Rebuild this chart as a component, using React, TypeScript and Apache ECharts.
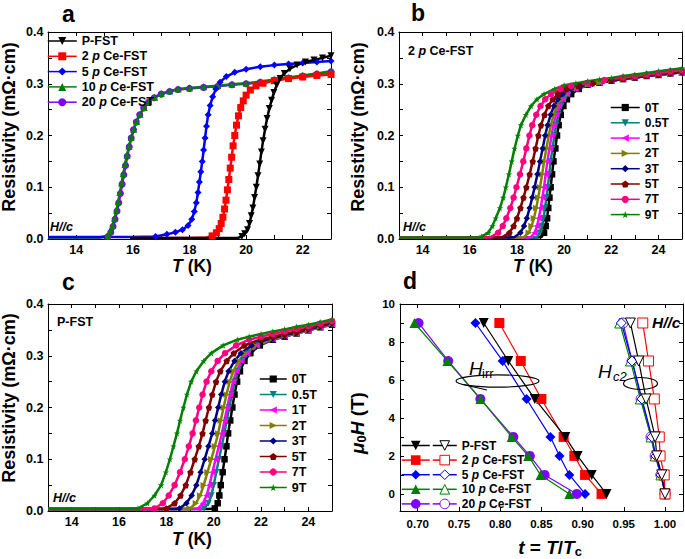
import React, { useEffect, useRef } from "react";
import * as echarts from "echarts";

const FONT = '"Liberation Sans", Arial, Helvetica, sans-serif';

// ---------- Panel a : zero-field resistivity ----------
const aPFST = [[15.9,0.002],[17,0.002],[18,0.002],[19,0.002],[19.7,0.002],[19.85,0.005],[19.95,0.01],[20.05,0.018],[20.12,0.03],[20.18,0.045],[20.24,0.06],[20.3,0.08],[20.36,0.1],[20.42,0.122],[20.48,0.145],[20.54,0.168],[20.6,0.19],[20.67,0.212],[20.74,0.233],[20.82,0.252],[20.9,0.268],[20.98,0.283],[21.08,0.297],[21.2,0.31],[21.35,0.32],[21.55,0.329],[21.8,0.336],[22.1,0.342],[22.4,0.346],[22.7,0.35],[23,0.354]];
const a2p = [[15.9,0.002],[17,0.002],[18,0.002],[18.6,0.003],[18.8,0.006],[18.95,0.012],[19.05,0.02],[19.12,0.03],[19.18,0.042],[19.24,0.058],[19.29,0.075],[19.34,0.095],[19.39,0.115],[19.44,0.137],[19.49,0.158],[19.54,0.18],[19.6,0.2],[19.66,0.22],[19.73,0.238],[19.81,0.254],[19.9,0.267],[20.0,0.278],[20.15,0.288],[20.35,0.296],[20.6,0.301],[21,0.306],[21.5,0.31],[22,0.313],[22.5,0.316],[23,0.318]];
const a5p = [[13,0.004],[14,0.004],[15,0.004],[16,0.004],[16.8,0.005],[17.2,0.009],[17.5,0.013],[17.75,0.018],[17.95,0.026],[18.08,0.038],[18.17,0.053],[18.24,0.07],[18.3,0.09],[18.35,0.11],[18.4,0.13],[18.45,0.15],[18.5,0.172],[18.55,0.195],[18.6,0.218],[18.66,0.24],[18.73,0.258],[18.82,0.275],[18.93,0.29],[19.08,0.303],[19.3,0.314],[19.6,0.322],[20,0.328],[20.5,0.333],[21,0.336],[21.5,0.338],[22,0.34],[22.5,0.342],[23,0.344]];
const a10p = [[13,0.003],[14,0.003],[14.8,0.003],[15.1,0.006],[15.2,0.015],[15.28,0.026],[15.35,0.04],[15.42,0.056],[15.48,0.072],[15.54,0.09],[15.6,0.108],[15.66,0.126],[15.72,0.144],[15.79,0.162],[15.86,0.179],[15.94,0.196],[16.03,0.212],[16.13,0.227],[16.25,0.241],[16.4,0.254],[16.57,0.265],[16.77,0.274],[17,0.281],[17.3,0.286],[17.6,0.29],[18,0.292],[18.5,0.294],[19,0.296],[19.5,0.299],[20,0.301],[20.5,0.304],[21,0.308],[21.5,0.312],[22,0.316],[22.5,0.32],[23,0.324]];
const a20p = [[13,0.003],[14.8,0.003],[15.12,0.005],[15.22,0.013],[15.3,0.024],[15.37,0.038],[15.44,0.054],[15.5,0.07],[15.56,0.088],[15.62,0.106],[15.68,0.124],[15.74,0.142],[15.8,0.16],[15.87,0.178],[15.94,0.195],[16.02,0.211],[16.12,0.226],[16.24,0.24],[16.38,0.253],[16.55,0.264],[16.75,0.273],[17,0.28],[17.3,0.285],[17.6,0.289],[18,0.291],[18.5,0.293],[19,0.295],[19.5,0.298],[20,0.3],[20.5,0.303],[21,0.307],[21.5,0.311],[22,0.315],[22.5,0.319],[23,0.323]];

// ---------- Panel b : 2 p Ce-FST in field ----------
const b0T = [[13,0.003],[15,0.003],[17,0.003],[18.8,0.003],[19.05,0.004],[19.15,0.012],[19.22,0.025],[19.28,0.04],[19.33,0.06],[19.38,0.08],[19.43,0.1],[19.49,0.125],[19.55,0.15],[19.63,0.175],[19.7,0.2],[19.77,0.22],[19.86,0.24],[19.97,0.257],[20.12,0.27],[20.3,0.28],[20.62,0.29],[21,0.298],[21.5,0.302],[22,0.306],[22.5,0.309],[23,0.312],[23.5,0.315],[24,0.317],[24.5,0.32],[25,0.322]];
const b05T = [[13,0.003],[16,0.003],[18.6,0.003],[18.85,0.004],[18.98,0.012],[19.06,0.025],[19.13,0.04],[19.19,0.06],[19.25,0.08],[19.31,0.1],[19.37,0.125],[19.43,0.15],[19.51,0.175],[19.59,0.2],[19.66,0.22],[19.76,0.24],[19.88,0.257],[20.03,0.27],[20.2,0.28],[20.55,0.29],[21,0.298],[21.5,0.302],[22,0.306],[22.5,0.309],[23,0.312],[23.5,0.315],[24,0.317],[24.5,0.32],[25,0.322]];
const b1T = [[13,0.003],[16,0.003],[18.4,0.003],[18.6,0.004],[18.75,0.012],[18.85,0.025],[18.93,0.04],[19.01,0.06],[19.08,0.08],[19.15,0.1],[19.22,0.125],[19.29,0.15],[19.38,0.175],[19.47,0.2],[19.55,0.22],[19.66,0.24],[19.78,0.257],[19.94,0.27],[20.12,0.28],[20.48,0.29],[21,0.298],[21.5,0.302],[22,0.306],[22.5,0.309],[23,0.312],[23.5,0.315],[24,0.317],[24.5,0.32],[25,0.322]];
const b2T = [[13,0.003],[16,0.003],[18.1,0.003],[18.3,0.004],[18.5,0.012],[18.62,0.025],[18.72,0.04],[18.82,0.06],[18.9,0.08],[18.98,0.1],[19.07,0.125],[19.15,0.15],[19.25,0.175],[19.35,0.2],[19.44,0.22],[19.56,0.24],[19.69,0.257],[19.85,0.27],[20.05,0.28],[20.4,0.29],[21,0.298],[21.5,0.302],[22,0.306],[22.5,0.309],[23,0.312],[23.5,0.315],[24,0.317],[24.5,0.32],[25,0.322]];
const b3T = [[13,0.003],[16,0.003],[17.7,0.003],[17.9,0.004],[18.15,0.012],[18.3,0.025],[18.42,0.04],[18.54,0.06],[18.65,0.08],[18.75,0.1],[18.87,0.125],[18.98,0.15],[19.09,0.175],[19.2,0.2],[19.3,0.22],[19.43,0.24],[19.57,0.257],[19.74,0.27],[19.95,0.28],[20.3,0.29],[20.7,0.295],[21.2,0.3],[22,0.306],[22.5,0.309],[23,0.312],[23.5,0.315],[24,0.318],[24.5,0.32],[25,0.323]];
const b5T = [[13,0.003],[15,0.003],[17.2,0.003],[17.4,0.004],[17.68,0.012],[17.86,0.025],[18.0,0.04],[18.15,0.06],[18.28,0.08],[18.4,0.1],[18.54,0.125],[18.67,0.15],[18.79,0.175],[18.91,0.2],[19.02,0.22],[19.17,0.24],[19.33,0.257],[19.52,0.27],[19.74,0.28],[20.1,0.29],[20.6,0.296],[21.2,0.301],[22,0.307],[22.5,0.31],[23,0.313],[23.5,0.316],[24,0.319],[24.5,0.321],[25,0.324]];
const b7T = [[13,0.003],[15,0.003],[16.7,0.003],[16.9,0.004],[17.2,0.012],[17.4,0.025],[17.55,0.04],[17.72,0.06],[17.86,0.08],[17.98,0.1],[18.13,0.125],[18.27,0.15],[18.4,0.175],[18.53,0.2],[18.65,0.22],[18.82,0.24],[19.0,0.257],[19.2,0.27],[19.45,0.28],[19.85,0.29],[20.3,0.296],[21,0.302],[21.7,0.307],[22.5,0.312],[23,0.315],[23.5,0.318],[24,0.321],[24.5,0.324],[25,0.326]];
const b9T = [[13,0.003],[15,0.003],[16.3,0.003],[16.5,0.005],[16.78,0.012],[16.96,0.025],[17.1,0.04],[17.28,0.06],[17.42,0.08],[17.53,0.1],[17.66,0.125],[17.78,0.15],[17.9,0.175],[18.04,0.2],[18.17,0.22],[18.38,0.24],[18.6,0.257],[18.85,0.27],[19.15,0.28],[19.6,0.29],[20,0.297],[20.5,0.301],[21,0.305],[21.5,0.308],[22,0.311],[22.5,0.315],[23,0.318],[23.5,0.321],[24,0.324],[24.5,0.327],[25,0.33]];

// ---------- Panel c : P-FST in field ----------
const c0T = [[13,0.004],[15,0.004],[17,0.004],[19,0.004],[19.8,0.004],[20.05,0.005],[20.17,0.015],[20.24,0.03],[20.3,0.05],[20.38,0.075],[20.46,0.1],[20.54,0.125],[20.61,0.15],[20.7,0.175],[20.79,0.2],[20.88,0.225],[20.99,0.25],[21.11,0.27],[21.3,0.29],[21.55,0.305],[21.95,0.32],[22.5,0.331],[23,0.337],[23.5,0.343],[24,0.349],[24.5,0.355],[25,0.36]];
const c05T = [[13,0.004],[16,0.004],[19.4,0.004],[19.6,0.005],[19.78,0.015],[19.9,0.03],[20.0,0.05],[20.11,0.075],[20.22,0.1],[20.34,0.125],[20.45,0.15],[20.55,0.175],[20.66,0.2],[20.77,0.225],[20.9,0.25],[21.03,0.27],[21.23,0.29],[21.48,0.305],[21.88,0.32],[22.5,0.332],[23,0.338],[23.5,0.343],[24,0.349],[24.5,0.355],[25,0.36]];
const c1T = [[13,0.004],[16,0.004],[19.15,0.004],[19.35,0.005],[19.55,0.015],[19.7,0.03],[19.82,0.05],[19.95,0.075],[20.08,0.1],[20.22,0.125],[20.35,0.15],[20.46,0.175],[20.57,0.2],[20.69,0.225],[20.82,0.25],[20.96,0.27],[21.17,0.29],[21.42,0.305],[21.82,0.32],[22.5,0.332],[23,0.338],[23.5,0.343],[24,0.349],[24.5,0.355],[25,0.361]];
const c2T = [[13,0.004],[16,0.004],[18.8,0.004],[19.0,0.005],[19.25,0.015],[19.43,0.03],[19.58,0.05],[19.74,0.075],[19.9,0.1],[20.05,0.125],[20.19,0.15],[20.3,0.175],[20.42,0.2],[20.54,0.225],[20.68,0.25],[20.83,0.27],[21.06,0.29],[21.32,0.305],[21.75,0.32],[22.5,0.333],[23,0.339],[23.5,0.344],[24,0.35],[24.5,0.356],[25,0.362]];
const c3T = [[13,0.004],[16,0.004],[18.35,0.004],[18.55,0.005],[18.85,0.015],[19.07,0.03],[19.27,0.05],[19.45,0.075],[19.62,0.1],[19.78,0.125],[19.94,0.15],[20.06,0.175],[20.19,0.2],[20.32,0.225],[20.47,0.25],[20.63,0.27],[20.88,0.29],[21.15,0.305],[21.6,0.32],[22,0.328],[22.5,0.334],[23,0.34],[23.5,0.345],[24,0.351],[24.5,0.357],[25,0.363]];
const c5T = [[13,0.004],[16,0.004],[17.8,0.004],[18.0,0.005],[18.35,0.015],[18.6,0.03],[18.82,0.05],[19.02,0.075],[19.2,0.1],[19.37,0.125],[19.53,0.15],[19.66,0.175],[19.8,0.2],[19.94,0.225],[20.1,0.25],[20.28,0.27],[20.55,0.29],[20.85,0.305],[21.3,0.32],[22,0.332],[22.5,0.337],[23,0.342],[23.5,0.347],[24,0.353],[24.5,0.359],[25,0.365]];
const c7T = [[13,0.004],[15,0.004],[17.3,0.004],[17.5,0.005],[17.85,0.015],[18.1,0.03],[18.35,0.05],[18.58,0.075],[18.78,0.1],[18.95,0.125],[19.11,0.15],[19.25,0.175],[19.39,0.2],[19.53,0.225],[19.7,0.25],[19.9,0.27],[20.17,0.29],[20.48,0.305],[20.95,0.32],[21.5,0.331],[22,0.337],[22.5,0.342],[23,0.347],[23.5,0.352],[24,0.357],[24.5,0.362],[25,0.367]];
const c9T = [[13,0.004],[15,0.004],[16.6,0.004],[16.8,0.005],[17.2,0.015],[17.5,0.03],[17.78,0.05],[17.98,0.075],[18.15,0.1],[18.3,0.125],[18.45,0.15],[18.58,0.175],[18.72,0.2],[18.87,0.225],[19.05,0.25],[19.27,0.27],[19.58,0.29],[19.9,0.305],[20.4,0.32],[21,0.331],[21.5,0.337],[22,0.342],[22.5,0.347],[23,0.351],[23.5,0.356],[24,0.36],[24.5,0.365],[25,0.37]];

// ---------- Panel d : phase diagram ----------
const dFields = [0, 1, 2, 3, 5, 7, 9];
const irrPFST = [0.929, 0.911, 0.894, 0.879, 0.842, 0.810, 0.780];
const irr2p = [0.923, 0.903, 0.890, 0.877, 0.850, 0.825, 0.799];
const irr5p = [0.903, 0.884, 0.872, 0.861, 0.832, 0.803, 0.770];
const irr10p = [0.884, 0.849, 0.834, 0.814, 0.776, 0.736, 0.696];
const irr20p = [0.893, 0.854, 0.836, 0.816, 0.776, 0.737, 0.701];
const c2PFST = [1.0, 0.996, 0.990, 0.988, 0.977, 0.968, 0.958];
const c22p = [1.0, 0.999, 0.994, 0.993, 0.987, 0.980, 0.973];
const c25p = [1.0, 0.995, 0.989, 0.984, 0.972, 0.960, 0.947];
const c210p = [1.0, 0.995, 0.988, 0.983, 0.970, 0.958, 0.945];
const c220p = [1.0, 0.995, 0.988, 0.983, 0.971, 0.960, 0.949];

// ---------- ticks / labels ----------
const xTicksA = [13, 14, 15, 16, 17, 18, 19, 20, 21, 22, 23];
const xLabelsA = [14, 16, 18, 20, 22];
const xTicksBC = [13, 14, 15, 16, 17, 18, 19, 20, 21, 22, 23, 24, 25];
const xLabelsBC = [14, 16, 18, 20, 22, 24];
const yTicksR = [0, 0.05, 0.1, 0.15, 0.2, 0.25, 0.3, 0.35, 0.4];
const yLabelsR = [0, 0.1, 0.2, 0.3, 0.4];
const xTicksD = [0.7, 0.75, 0.8, 0.85, 0.9, 0.95, 1.0];
const yTicksD = [0, 1, 2, 3, 4, 5, 6, 7, 8, 9, 10];
const yLabelsD = [0, 2, 4, 6, 8, 10];

const fieldNames = ["0T", "0.5T", "1T", "2T", "3T", "5T", "7T", "9T"];

const SYM_DOWN = "path://M0,0L10,0L5,9Z";
const SYM_LEFT = "path://M9,0L9,10L0,5Z";
const SYM_RIGHT = "path://M0,0L0,10L9,5Z";
const SYM_PENT = "path://M5,0L10,3.8L8.1,9.5L1.9,9.5L0,3.8Z";
const SYM_STAR = "path://M5,0L6.2,3.6L10,3.6L6.9,5.9L8.1,9.5L5,7.3L1.9,9.5L3.1,5.9L0,3.6L3.8,3.6Z";

const fieldColors = ["#000000", "#008080", "#ff00ff", "#808000", "#000080", "#800000", "#ff0080", "#008000"];
const fieldSymbols = ["rect", SYM_DOWN, SYM_LEFT, SYM_RIGHT, "diamond", SYM_PENT, "circle", SYM_STAR];

const sampleNames = ["P-FST", "2 p Ce-FST", "5 p Ce-FST", "10 p Ce-FST", "20 p Ce-FST"];
const sampleColors = ["#000000", "#ff0000", "#0000ff", "#008000", "#8000ff"];
const sampleSymbols = [SYM_DOWN, "rect", "diamond", "triangle", "circle"];

function axes(g: number, xmin: number, xmax: number, ymin: number, ymax: number,
  xt: number[], xl: number[], yt: number[], yl: number[],
  xf: (v: number) => string, yf: (v: number) => string, fs: number, xm: number, ym: number) {
  const line = { show: true, onZero: false, lineStyle: { color: "#000", width: 1 } };
  const tick = (vals: number[]) => ({ show: true, inside: true, length: 4, customValues: vals, lineStyle: { color: "#000", width: 1 } });
  const lab = (vals: number[], f: (v: number) => string, m: number) => ({
    show: true, customValues: vals, formatter: f, color: "#000", fontWeight: "bold", fontSize: fs, fontFamily: FONT, margin: m,
  });
  const base = { type: "value", gridIndex: g, splitLine: { show: false }, axisLine: line };
  return {
    x: [
      { ...base, min: xmin, max: xmax, position: "bottom", axisTick: tick(xt), axisLabel: lab(xl, xf, xm) },
      { ...base, min: xmin, max: xmax, position: "top", axisTick: tick(xt), axisLabel: { show: false } },
    ],
    y: [
      { ...base, min: ymin, max: ymax, position: "left", axisTick: tick(yt), axisLabel: lab(yl, yf, ym) },
      { ...base, min: ymin, max: ymax, position: "right", axisTick: tick(yt), axisLabel: { show: false } },
    ],
  };
}

function curve(name: string, data: number[][], g: number, color: string, symbol: string, size: number) {
  return {
    type: "line", name, data, xAxisIndex: g * 2, yAxisIndex: g * 2,
    symbol, symbolSize: (v: number[]) => (v[1] <= 0.0045 ? 0 : size), showAllSymbol: true,
    lineStyle: { color, width: 2.5 }, itemStyle: { color }, emphasis: { disabled: true }, z: 2,
  };
}

function dSeries(name: string, ts: number[], color: string, symbol: string, open: boolean) {
  return {
    type: "line", name, data: dFields.map((h, i) => [ts[i], h]), xAxisIndex: 6, yAxisIndex: 6,
    symbol, symbolSize: 10, showAllSymbol: true,
    lineStyle: { color, width: 1.2 },
    itemStyle: open ? { color: "#fff", borderColor: color, borderWidth: 1 } : { color },
    emphasis: { disabled: true }, z: 2,
  };
}

const richI = (fs: number) => ({ i: { fontStyle: "italic", fontWeight: "bold", fontSize: fs, fontFamily: FONT, color: "#000" } });
const fmtP = (prefix: RegExp) => (name: string) => name.replace(prefix, "").replace(" p ", " {i|p} ");

function legend(names: string[], left: number, top: number, itemWidth: number, itemHeight: number, gap: number, fs: number, lh: number, formatter: (n: string) => string, extra: any = {}) {
  return {
    data: names, orient: "vertical", left, top, itemWidth, itemHeight, itemGap: gap, selectedMode: false,
    formatter, padding: 0,
    textStyle: { fontSize: fs, fontWeight: "bold", fontFamily: FONT, color: "#000", lineHeight: lh, rich: richI(fs) },
    lineStyle: { width: 1.5 },
    ...extra,
  };
}

function txt(x: number, y: number, text: string, fs: number, opts: any = {}) {
  return {
    type: "text", x, y, rotation: opts.rotation || 0, z: 10,
    style: {
      text, fontSize: fs, fontWeight: opts.weight || "bold", fontStyle: opts.italic ? "italic" : "normal", fontFamily: FONT, fill: "#000",
      align: opts.align || "left", verticalAlign: "middle", textAlign: opts.align || "left", textVerticalAlign: "middle",
      rich: opts.rich,
    },
  };
}

function buildOption() {
  const fmtInt = (v: number) => String(v);
  const fmt1 = (v: number) => v.toFixed(1);
  const fmt2 = (v: number) => v.toFixed(2);
  const A = axes(0, 13, 23, 0, 0.4, xTicksA, xLabelsA, yTicksR, yLabelsR, fmtInt, fmt1, 12.5, 4.5, 4.5);
  const B = axes(1, 13, 25, 0, 0.4, xTicksBC, xLabelsBC, yTicksR, yLabelsR, fmtInt, fmt1, 12.5, 4.5, 4.5);
  const C = axes(2, 13, 25, 0, 0.4, xTicksBC, xLabelsBC, yTicksR, yLabelsR, fmtInt, fmt1, 12.5, 4.5, 4.5);
  const D = axes(3, 0.6785, 1.0218, -0.9, 10, xTicksD, xTicksD, yTicksD, yLabelsD, fmt2, fmtInt, 11.5, 7, 5);

  const aData = [aPFST, a2p, a5p, a10p, a20p];
  const bData = [b0T, b05T, b1T, b2T, b3T, b5T, b7T, b9T];
  const cData = [c0T, c05T, c1T, c2T, c3T, c5T, c7T, c9T];
  const irr = [irrPFST, irr2p, irr5p, irr10p, irr20p];
  const hc2 = [c2PFST, c22p, c25p, c210p, c220p];

  const series: any[] = [];
  [4, 3, 2, 1, 0].forEach((i) => series.push(curve(sampleNames[i], aData[i], 0, sampleColors[i], sampleSymbols[i], 7)));
  for (let i = 0; i < 8; i++) series.push(curve("b " + fieldNames[i], bData[i], 1, fieldColors[i], fieldSymbols[i], 6.5));
  for (let i = 0; i < 8; i++) series.push(curve("c " + fieldNames[i], cData[i], 2, fieldColors[i], fieldSymbols[i], 6.5));
  [4, 3, 2, 1, 0].forEach((i) => {
    series.push(dSeries("Hirr " + sampleNames[i], irr[i], sampleColors[i], sampleSymbols[i], false));
    series.push(dSeries("Hc2 " + sampleNames[i], hc2[i], sampleColors[i], sampleSymbols[i], true));
  });

  const italicRich = (fs: number, w = "bold") => ({
    i: { fontStyle: "italic", fontWeight: w, fontSize: fs, fontFamily: FONT, fill: "#000", color: "#000" },
    s: { fontStyle: "normal", fontWeight: w, fontSize: fs * 0.68, fontFamily: FONT, fill: "#000", color: "#000", lineHeight: 10, verticalAlign: "bottom" },
    n: { fontWeight: w, fontSize: fs, fontFamily: FONT, fill: "#000", color: "#000", lineHeight: 22 },
  });
  const RES = "Resistivity (mΩ·cm)";

  const graphic: any[] = [
    txt(62, 13.5, "a", 23), txt(411, 12.5, "b", 23), txt(62, 282, "c", 23), txt(403, 281, "d", 23),
    txt(192, 266, "{i|T}{n| (K)}", 17.5, { align: "center", rich: italicRich(17.5) }),
    txt(533, 266, "{i|T}{n| (K)}", 17.5, { align: "center", rich: italicRich(17.5) }),
    txt(192, 539, "{i|T}{n| (K)}", 17.5, { align: "center", rich: italicRich(17.5) }),
    txt(550, 547, "{i|t}{n| = }{i|T}{n|/}{i|T}{s|c}", 19, { align: "center", rich: italicRich(19) }),
    txt(9, 127, RES, 18, { align: "center", rotation: Math.PI / 2 }),
    txt(358, 127, RES, 18, { align: "center", rotation: Math.PI / 2 }),
    txt(9, 398, RES, 18, { align: "center", rotation: Math.PI / 2 }),
    txt(357, 423, "{i|μ}{s|0}{i|H}{n| (T)}", 19, { align: "center", rotation: Math.PI / 2, rich: italicRich(19) }),
    txt(50, 227, "H//c", 12.5, { italic: true }),
    txt(403, 227, "H//c", 12.5, { italic: true }),
    txt(408, 51, "2 {i|p} Ce-FST", 12.5, { rich: italicRich(12.5) }),
    txt(57, 322, "P-FST", 12.5),
    txt(53, 497.5, "H//c", 12.5, { italic: true }),
    txt(652, 322, "H//c", 15.5, { italic: true }),
    txt(469, 368, "H", 19, { italic: true, weight: "normal" }),
    txt(482, 373, "irr", 13, { weight: "normal" }),
    txt(598, 371.5, "H", 19, { italic: true, weight: "normal" }),
    txt(613, 376, "c2", 13, { italic: true, weight: "normal" }),
    { type: "ellipse", z: 10, shape: { cx: 497.5, cy: 381, rx: 41.5, ry: 6.2 }, style: { fill: "none", stroke: "#000", lineWidth: 1.2 } },
    { type: "line", z: 10, shape: { x1: 463, y1: 384.5, x2: 487, y2: 390 }, style: { stroke: "#000", lineWidth: 1.2 } },
    { type: "ellipse", z: 10, shape: { cx: 640.5, cy: 383.5, rx: 17, ry: 6 }, style: { fill: "none", stroke: "#000", lineWidth: 1.2 } },
  ];

  const fieldFmt = (n: string) => n.replace(/^[bc] /, "");
  return {
    animation: false,
    backgroundColor: "#fff",
    textStyle: { fontFamily: FONT },
    grid: [
      { left: 48, top: 32, width: 283, height: 207 },
      { left: 399, top: 32, width: 283, height: 207 },
      { left: 48, top: 304, width: 284, height: 207 },
      { left: 400, top: 304, width: 283, height: 207 },
    ],
    xAxis: [...A.x, ...B.x, ...C.x, ...D.x],
    yAxis: [...A.y, ...B.y, ...C.y, ...D.y],
    legend: [
      legend(sampleNames, 47, 34.5, 29, 10, 2.3, 12.5, 13, fmtP(/^$/)),
      legend(fieldNames.map((f) => "b " + f), 610, 101, 29, 9, 2.3, 12, 13, fieldFmt),
      legend(fieldNames.map((f) => "c " + f), 259, 372.5, 27, 9, 2.5, 12.5, 13, fieldFmt),
      legend(sampleNames.map((s) => "Hirr " + s), 401, 439.5, 28, 12, 2.6, 12, 12, () => " ", { itemStyle: { borderWidth: 0 } }),
      legend(sampleNames.map((s) => "Hc2 " + s), 432, 439.5, 24, 12, 2.6, 12, 12, fmtP(/^Hc2 /), { itemStyle: { borderWidth: 1 } }),
    ],
    series,
    graphic,
  };
}

export default function App() {
  const ref = useRef<HTMLDivElement>(null);
  useEffect(() => {
    const chart = echarts.init(ref.current!, null, { renderer: "svg" });
    chart.setOption(buildOption() as any);
    return () => chart.dispose();
  }, []);
  return (
    <div
      ref={ref}
      style={{ position: "fixed", left: 0, top: 0, width: 685, height: 559, background: "#fff" }}
    />
  );
}
